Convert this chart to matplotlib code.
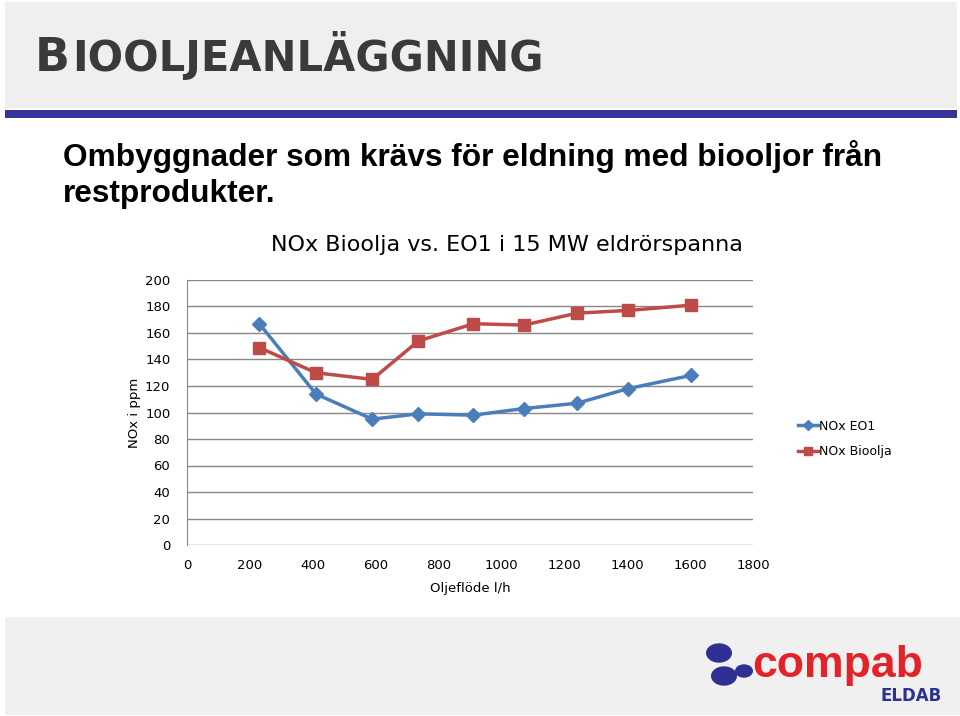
import matplotlib.pyplot as plt
from matplotlib.patches import Rectangle, Circle

# Data
flow = [230, 410, 589, 736, 911, 1072, 1241, 1402, 1603]
nox_eo1 = [167, 114, 95, 99, 98, 103, 107, 118, 128]
nox_bio = [149, 130, 125, 154, 167, 166, 175, 177, 181]
xticks = [0, 200, 400, 600, 800, 1000, 1200, 1400, 1600, 1800]
yticks = [0, 20, 40, 60, 80, 100, 120, 140, 160, 180, 200]

W, H = 960, 716
fig = plt.figure(figsize=(9.6, 7.16), dpi=100)
fig.patch.set_facecolor('white')

def px(x, y):
    # pixel coords (top-left origin) -> figure fraction
    return x / W, 1 - y / H

# header band, blue rule, footer band
fig.add_artist(Rectangle(px(5, 108), 952 / W, 106 / H, transform=fig.transFigure,
                         facecolor='#efefef', edgecolor='none'))
fig.add_artist(Rectangle(px(5, 118), 952 / W, 8 / H, transform=fig.transFigure,
                         facecolor='#333399', edgecolor='none'))
fig.add_artist(Rectangle(px(5, 715), 955 / W, 98 / H, transform=fig.transFigure,
                         facecolor='#f0f0f0', edgecolor='none'))

# heading in small caps
fig.text(*px(35, 71), 'B', fontsize=33, fontweight='bold', color='#3a3a3a',
         family='DejaVu Sans', va='baseline')
fig.text(*px(72, 71), 'IOOLJEANLÄGGNING', fontsize=30, fontweight='bold', color='#3a3a3a',
         family='DejaVu Sans', va='baseline')

fig.text(*px(63, 166), 'Ombyggnader som krävs för eldning med biooljor från',
         fontsize=22.8, fontweight='bold', family='Liberation Sans', va='baseline')
fig.text(*px(63, 202), 'restprodukter.',
         fontsize=22.8, fontweight='bold', family='Liberation Sans', va='baseline')

# chart
ax = fig.add_axes([187 / W, 171 / H, 566 / W, 265 / H])
ax.plot(flow, nox_eo1, color='#4a7ebb', lw=2.5, marker='D', ms=7, label='NOx EO1')
ax.plot(flow, nox_bio, color='#be4b48', lw=2.5, marker='s', ms=8, label='NOx Bioolja')
ax.set_xlim(0, 1800)
ax.set_ylim(0, 200)
ax.set_xticks(xticks)
ax.set_yticks(yticks)
ax.grid(axis='y', color='#888888', lw=1)
ax.set_axisbelow(True)
for s in ['top', 'right', 'bottom']:
    ax.spines[s].set_visible(False)
ax.spines['left'].set_color('#888888')
ax.tick_params(length=0, labelsize=9.5, pad=10)
ax.tick_params(axis='y', pad=12)
ax.set_title('NOx Bioolja vs. EO1 i 15 MW eldrörspanna', fontsize=16, pad=21, x=0.565)
ax.set_xlabel('Oljeflöde l/h', fontsize=9.5, labelpad=7)
ax.set_ylabel('NOx i ppm', fontsize=9.5, labelpad=3)
ax.legend(loc='center left', bbox_to_anchor=(1.06, 0.40), frameon=False,
          prop={'size': 9}, handlelength=1.6, handletextpad=0.1,
          labelspacing=1.0, markerscale=0.8)

# logo approximation
for cx, cy, r in [(719, 653, 13), (724, 676, 13), (744, 671, 9)]:
    fig.add_artist(Circle(px(cx, cy), r / W, transform=fig.transFigure,
                          facecolor='#2e3192', edgecolor='none'))
fig.text(*px(752, 677), 'compab', fontsize=32, fontweight='bold', color='#e32229',
         family='Liberation Sans', va='baseline')
fig.text(*px(880, 701), 'ELDAB', fontsize=12, fontweight='bold', color='#2e3192',
         family='Liberation Sans Narrow', va='baseline')

fig.savefig('out.png', dpi=100)
